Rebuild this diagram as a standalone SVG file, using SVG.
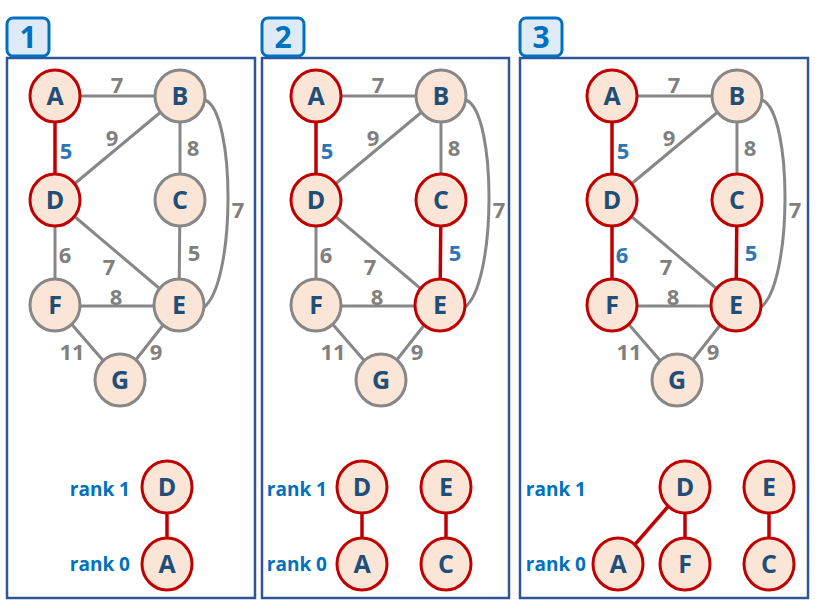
<svg xmlns="http://www.w3.org/2000/svg" width="820" height="609" viewBox="0 0 820 609">
<style>
.box{fill:#fff;stroke:#2F5597;stroke-width:2.5}
.tab{fill:#DEEBF7;stroke:#0070C0;stroke-width:3}
.tabt{font-family:"Open Sans","Noto Sans",sans-serif;font-weight:bold;font-size:30px;fill:#0070C0;text-anchor:middle}
.n{fill:#FBE5D6;stroke:#878787;stroke-width:3}
.nr{fill:#FBE5D6;stroke:#C00000;stroke-width:3}
.nt{font-family:"Open Sans","Noto Sans",sans-serif;font-weight:bold;font-size:25px;fill:#1F4E79;text-anchor:middle}
.e{stroke:#878787;stroke-width:3;fill:none}
.er{stroke:#C00000;stroke-width:3.5;fill:none}
.l{font-family:"Open Sans","Noto Sans",sans-serif;font-weight:bold;font-size:22px;fill:#808080;text-anchor:middle}
.lb{font-family:"Open Sans","Noto Sans",sans-serif;font-weight:bold;font-size:22px;fill:#2E75B6;text-anchor:middle}
.rk{font-family:"Open Sans","Noto Sans",sans-serif;font-weight:bold;font-size:19px;fill:#0070C0;text-anchor:end}
</style>
<g id="panels">
<rect class="box" x="7" y="58" width="248" height="540"/>
<rect class="box" x="262" y="58" width="247" height="540"/>
<rect class="box" x="520" y="58" width="288" height="540"/>
<rect class="tab" x="7" y="18" width="42" height="38" rx="6"/>
<text class="tabt" x="28" y="48">1</text>
<rect class="tab" x="262" y="18" width="42" height="38" rx="6"/>
<text class="tabt" x="283" y="48">2</text>
<rect class="tab" x="520" y="18" width="42" height="38" rx="6"/>
<text class="tabt" x="541" y="48">3</text>
</g>
<g id="connectors">
<!-- panel 1 -->
<line class="e" x1="55" y1="96" x2="180" y2="96"/>
<line class="e" x1="180" y1="96" x2="55" y2="200"/>
<line class="e" x1="180" y1="96" x2="180" y2="200"/>
<path class="e" d="M205,100 C236,112 236,285 203,308"/>
<line class="e" x1="55" y1="200" x2="55" y2="305"/>
<line class="e" x1="55" y1="200" x2="179" y2="305"/>
<line class="e" x1="180" y1="200" x2="179" y2="305"/>
<line class="e" x1="55" y1="306" x2="179" y2="306"/>
<line class="e" x1="55" y1="305" x2="120" y2="380"/>
<line class="e" x1="179" y1="305" x2="120" y2="380"/>
<line class="er" x1="55" y1="96" x2="55" y2="200"/>
<line class="er" x1="167" y1="487" x2="167" y2="564"/>
<!-- panel 2 -->
<line class="e" x1="316" y1="96" x2="441" y2="96"/>
<line class="e" x1="441" y1="96" x2="316" y2="200"/>
<line class="e" x1="441" y1="96" x2="441" y2="200"/>
<path class="e" d="M466,100 C497,112 497,285 464,308"/>
<line class="e" x1="316" y1="200" x2="316" y2="305"/>
<line class="e" x1="316" y1="200" x2="440" y2="305"/>
<line class="e" x1="316" y1="306" x2="440" y2="306"/>
<line class="e" x1="316" y1="305" x2="381" y2="380"/>
<line class="e" x1="440" y1="305" x2="381" y2="380"/>
<line class="er" x1="316" y1="96" x2="316" y2="200"/>
<line class="er" x1="441" y1="200" x2="440" y2="305"/>
<line class="er" x1="362" y1="487" x2="362" y2="564"/>
<line class="er" x1="446" y1="487" x2="446" y2="564"/>
<!-- panel 3 -->
<line class="e" x1="612" y1="96" x2="737" y2="96"/>
<line class="e" x1="737" y1="96" x2="612" y2="200"/>
<line class="e" x1="737" y1="96" x2="737" y2="200"/>
<path class="e" d="M762,100 C793,112 793,285 760,308"/>
<line class="e" x1="612" y1="200" x2="736" y2="305"/>
<line class="e" x1="612" y1="306" x2="736" y2="306"/>
<line class="e" x1="612" y1="305" x2="677" y2="380"/>
<line class="e" x1="736" y1="305" x2="677" y2="380"/>
<line class="er" x1="612" y1="96" x2="612" y2="200"/>
<line class="er" x1="612" y1="200" x2="612" y2="305"/>
<line class="er" x1="737" y1="200" x2="736" y2="305"/>
<line class="er" x1="685" y1="487" x2="618" y2="564"/>
<line class="er" x1="685" y1="487" x2="685" y2="564"/>
<line class="er" x1="769" y1="487" x2="769" y2="564"/>
</g>
<g id="labels">
<text class="l" x="117" y="93">7</text>
<text class="lb" x="66" y="159">5</text>
<text class="l" x="112" y="146">9</text>
<text class="l" x="193" y="156">8</text>
<text class="l" x="238" y="218">7</text>
<text class="l" x="65" y="263">6</text>
<text class="l" x="109" y="275">7</text>
<text class="l" x="194" y="261">5</text>
<text class="l" x="116" y="305">8</text>
<text class="l" x="72" y="360">11</text>
<text class="l" x="156" y="360">9</text>

<text class="l" x="378" y="93">7</text>
<text class="lb" x="327" y="159">5</text>
<text class="l" x="373" y="146">9</text>
<text class="l" x="454" y="156">8</text>
<text class="l" x="499" y="218">7</text>
<text class="l" x="326" y="263">6</text>
<text class="l" x="370" y="275">7</text>
<text class="lb" x="455" y="261">5</text>
<text class="l" x="377" y="305">8</text>
<text class="l" x="333" y="360">11</text>
<text class="l" x="417" y="360">9</text>

<text class="l" x="674" y="93">7</text>
<text class="lb" x="623" y="159">5</text>
<text class="l" x="669" y="146">9</text>
<text class="l" x="750" y="156">8</text>
<text class="l" x="795" y="218">7</text>
<text class="lb" x="622" y="263">6</text>
<text class="l" x="666" y="275">7</text>
<text class="lb" x="751" y="261">5</text>
<text class="l" x="673" y="305">8</text>
<text class="l" x="629" y="360">11</text>
<text class="l" x="713" y="360">9</text>

<text class="rk" x="130" y="496">rank 1</text>
<text class="rk" x="130" y="571">rank 0</text>
<text class="rk" x="327" y="496">rank 1</text>
<text class="rk" x="327" y="571">rank 0</text>
<text class="rk" x="586" y="496">rank 1</text>
<text class="rk" x="586" y="571">rank 0</text>
</g>
<!-- panel 1 nodes -->
<g id="p1-A"><ellipse class="nr" cx="55" cy="96" rx="25" ry="26"/><text class="nt" x="55" y="105">A</text></g>
<g id="p1-B"><ellipse class="n" cx="180" cy="96" rx="25" ry="26"/><text class="nt" x="180" y="105">B</text></g>
<g id="p1-C"><ellipse class="n" cx="180" cy="200" rx="25" ry="26"/><text class="nt" x="180" y="209">C</text></g>
<g id="p1-D"><ellipse class="nr" cx="55" cy="200" rx="25" ry="26"/><text class="nt" x="55" y="209">D</text></g>
<g id="p1-E"><ellipse class="n" cx="179" cy="305" rx="25" ry="26"/><text class="nt" x="179" y="314">E</text></g>
<g id="p1-F"><ellipse class="n" cx="55" cy="305" rx="25" ry="26"/><text class="nt" x="55" y="314">F</text></g>
<g id="p1-G"><ellipse class="n" cx="120" cy="380" rx="25" ry="26"/><text class="nt" x="120" y="389">G</text></g>
<g id="p1-rD"><ellipse class="nr" cx="167" cy="487" rx="25" ry="26"/><text class="nt" x="167" y="496">D</text></g>
<g id="p1-rA"><ellipse class="nr" cx="167" cy="564" rx="25" ry="26"/><text class="nt" x="167" y="573">A</text></g>
<!-- panel 2 nodes -->
<g id="p2-A"><ellipse class="nr" cx="316" cy="96" rx="25" ry="26"/><text class="nt" x="316" y="105">A</text></g>
<g id="p2-B"><ellipse class="n" cx="441" cy="96" rx="25" ry="26"/><text class="nt" x="441" y="105">B</text></g>
<g id="p2-C"><ellipse class="nr" cx="441" cy="200" rx="25" ry="26"/><text class="nt" x="441" y="209">C</text></g>
<g id="p2-D"><ellipse class="nr" cx="316" cy="200" rx="25" ry="26"/><text class="nt" x="316" y="209">D</text></g>
<g id="p2-E"><ellipse class="nr" cx="440" cy="305" rx="25" ry="26"/><text class="nt" x="440" y="314">E</text></g>
<g id="p2-F"><ellipse class="n" cx="316" cy="305" rx="25" ry="26"/><text class="nt" x="316" y="314">F</text></g>
<g id="p2-G"><ellipse class="n" cx="381" cy="380" rx="25" ry="26"/><text class="nt" x="381" y="389">G</text></g>
<g id="p2-rD"><ellipse class="nr" cx="362" cy="487" rx="25" ry="26"/><text class="nt" x="362" y="496">D</text></g>
<g id="p2-rA"><ellipse class="nr" cx="362" cy="564" rx="25" ry="26"/><text class="nt" x="362" y="573">A</text></g>
<g id="p2-rE"><ellipse class="nr" cx="446" cy="487" rx="25" ry="26"/><text class="nt" x="446" y="496">E</text></g>
<g id="p2-rC"><ellipse class="nr" cx="446" cy="564" rx="25" ry="26"/><text class="nt" x="446" y="573">C</text></g>
<!-- panel 3 nodes -->
<g id="p3-A"><ellipse class="nr" cx="612" cy="96" rx="25" ry="26"/><text class="nt" x="612" y="105">A</text></g>
<g id="p3-B"><ellipse class="n" cx="737" cy="96" rx="25" ry="26"/><text class="nt" x="737" y="105">B</text></g>
<g id="p3-C"><ellipse class="nr" cx="737" cy="200" rx="25" ry="26"/><text class="nt" x="737" y="209">C</text></g>
<g id="p3-D"><ellipse class="nr" cx="612" cy="200" rx="25" ry="26"/><text class="nt" x="612" y="209">D</text></g>
<g id="p3-E"><ellipse class="nr" cx="736" cy="305" rx="25" ry="26"/><text class="nt" x="736" y="314">E</text></g>
<g id="p3-F"><ellipse class="nr" cx="612" cy="305" rx="25" ry="26"/><text class="nt" x="612" y="314">F</text></g>
<g id="p3-G"><ellipse class="n" cx="677" cy="380" rx="25" ry="26"/><text class="nt" x="677" y="389">G</text></g>
<g id="p3-rD"><ellipse class="nr" cx="685" cy="487" rx="25" ry="26"/><text class="nt" x="685" y="496">D</text></g>
<g id="p3-rA"><ellipse class="nr" cx="618" cy="564" rx="25" ry="26"/><text class="nt" x="618" y="573">A</text></g>
<g id="p3-rF"><ellipse class="nr" cx="685" cy="564" rx="25" ry="26"/><text class="nt" x="685" y="573">F</text></g>
<g id="p3-rE"><ellipse class="nr" cx="769" cy="487" rx="25" ry="26"/><text class="nt" x="769" y="496">E</text></g>
<g id="p3-rC"><ellipse class="nr" cx="769" cy="564" rx="25" ry="26"/><text class="nt" x="769" y="573">C</text></g>
</svg>
